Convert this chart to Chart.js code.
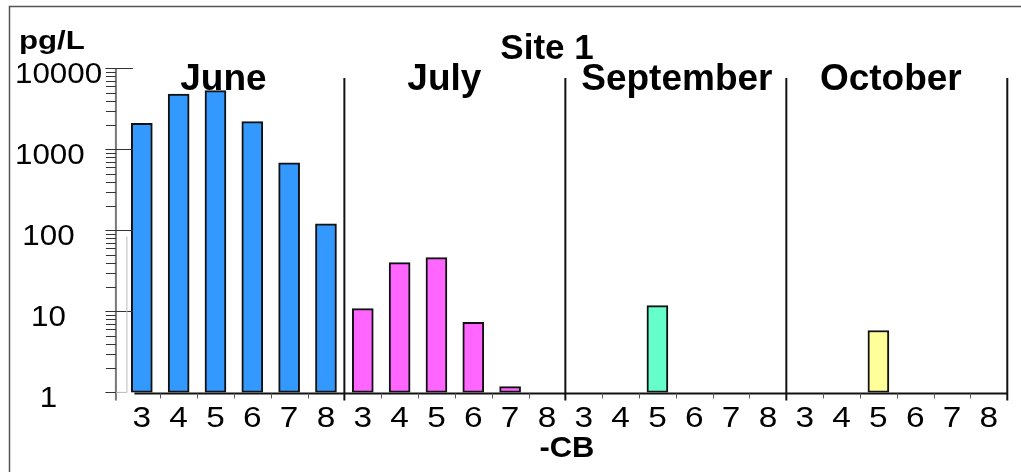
<!DOCTYPE html>
<html>
<head>
<meta charset="utf-8">
<script src="https://cdn.jsdelivr.net/npm/chart.js@4.4.1/dist/chart.umd.min.js"></script>
<style>
  html, body { margin: 0; padding: 0; background: #ffffff; overflow: hidden; }
  canvas { display: block; }
</style>
</head>
<body>
<canvas id="chart" width="1021" height="472" style="width:1021px;height:472px"></canvas>
<script>
// Sampling months and the congener groups measured in each
const months = ['June', 'July', 'September', 'October'];
const congeners = ['3', '4', '5', '6', '7', '8'];

// Concentrations (pg/L) per congener group, one list per month
const juneValues = [2100, 4800, 5300, 2200, 680, 120];
const julyValues = [10.8, 40, 46, 7.3, 1.18, null];
const septemberValues = [null, null, 11.8, null, null, null];
const octoberValues = [null, null, 5.8, null, null, null];

// Labelled decades on the log axis
const yTickValues = [1, 10, 100, 1000, 10000];
const yTickLabels = ['1', '10', '100', '1000', '10000'];

const monthColors = ['#3399ff', '#ff66ff', '#66ffcc', '#ffff99'];
const monthLabelShift = [-10.5, -10.5, 1, -6];

const monthSeries = [juneValues, julyValues, septemberValues, octoberValues];
const categoryLabels = months.flatMap(() => congeners);

const datasets = monthSeries.map((values, m) => ({
  label: months[m],
  data: categoryLabels.map((_, i) =>
    Math.floor(i / congeners.length) === m ? values[i % congeners.length] : null),
  backgroundColor: monthColors[m],
  borderColor: '#111111',
  borderWidth: 2,
  borderSkipped: false,
  barThickness: 21,
  grouped: false
}));

const SANS = '"Liberation Sans", Arial, Helvetica, sans-serif';

// text drawn with an optional horizontal stretch (the printed labels are wide)
function stretchedText(ctx, text, x, y, font, align, baseline, sx) {
  ctx.save();
  ctx.font = font;
  ctx.textAlign = align;
  ctx.textBaseline = baseline;
  ctx.translate(x, y);
  ctx.scale(sx, 1);
  ctx.fillText(text, 0, 0);
  ctx.restore();
}

const axesAndText = {
  id: 'axesAndText',
  afterDatasetsDraw(chart) {
    const { ctx, chartArea: a, scales: { x, y } } = chart;
    const n = chart.data.labels.length;
    const band = (a.right - a.left) / n;
    const groupSize = congeners.length;
    ctx.save();
    ctx.fillStyle = '#000000';

    // outer frame (top and left edges)
    ctx.strokeStyle = '#555555';
    ctx.lineWidth = 1.5;
    ctx.beginPath();
    ctx.moveTo(9.5, chart.height);
    ctx.lineTo(9.5, 6.5);
    ctx.lineTo(chart.width, 6.5);
    ctx.stroke();

    // y axis
    const axisX = a.left - 7.5;
    const yTop = y.getPixelForValue(yTickValues[yTickValues.length - 1]);
    const yBottom = y.getPixelForValue(yTickValues[0]);
    ctx.strokeStyle = '#777777';
    ctx.lineWidth = 2;
    ctx.beginPath();
    ctx.moveTo(axisX, yTop);
    ctx.lineTo(axisX, yBottom + 8);
    ctx.stroke();

    // minor ticks (2..9 within each decade)
    ctx.strokeStyle = '#333333';
    ctx.lineWidth = 1;
    for (let d = 0; d < yTickValues.length - 1; d++) {
      for (let m = 2; m <= 9; m++) {
        const py = Math.round(y.getPixelForValue(yTickValues[d] * m)) + 0.5;
        ctx.beginPath();
        ctx.moveTo(axisX - 10, py);
        ctx.lineTo(axisX, py);
        ctx.stroke();
      }
    }
    // major ticks and labels
    const yFont = '29px ' + SANS;
    const ySx = 1.08;
    yTickValues.forEach((v, i) => {
      const py = Math.round(y.getPixelForValue(v)) + 0.5;
      ctx.beginPath();
      ctx.moveTo(axisX - 10.5, py);
      ctx.lineTo(axisX + (i === 0 ? 3 : 17), py);
      ctx.stroke();
      ctx.font = yFont;
      const w = ctx.measureText(yTickLabels[i]).width * ySx;
      const left = Math.max(15, 48.5 - w / 2);
      stretchedText(ctx, yTickLabels[i], left, py + 6, yFont, 'left', 'middle', ySx);
    });

    // light bracket beside the lower decades
    ctx.strokeStyle = '#bbbbbb';
    ctx.beginPath();
    ctx.moveTo(axisX, yBottom);
    ctx.lineTo(a.left + 3.5, yBottom);
    ctx.lineTo(a.left + 3.5, y.getPixelForValue(84));
    ctx.stroke();

    // x axis line
    const baseY = a.bottom + 1;
    ctx.strokeStyle = '#111111';
    ctx.lineWidth = 2;
    ctx.beginPath();
    ctx.moveTo(a.left + 11, baseY);
    ctx.lineTo(a.right, baseY);
    ctx.stroke();

    // category ticks and month separators
    for (let k = 1; k <= n; k++) {
      const px = a.left + k * band;
      if (k % groupSize === 0) {
        ctx.lineWidth = 2;
        ctx.strokeStyle = '#111111';
        ctx.beginPath();
        ctx.moveTo(px, 78);
        ctx.lineTo(px, baseY + 7);
        ctx.stroke();
      } else {
        ctx.lineWidth = 1;
        ctx.strokeStyle = '#555555';
        const sx = Math.round(px) + 0.5;
        ctx.beginPath();
        ctx.moveTo(sx, baseY);
        ctx.lineTo(sx, baseY + 5);
        ctx.stroke();
      }
    }

    // category labels
    const xFont = '29px ' + SANS;
    chart.data.labels.forEach((lab, i) => {
      stretchedText(ctx, lab, x.getPixelForValue(i), 419, xFont, 'center', 'middle', 1.15);
    });

    // month headings
    months.forEach((mName, m) => {
      const cx = a.left + (m + 0.5) * groupSize * band + monthLabelShift[m];
      stretchedText(ctx, mName, cx, 90, 'bold 37px ' + SANS, 'center', 'alphabetic', 1);
    });

    // chart title
    stretchedText(ctx, 'Site 1', 547, 59, 'bold 35px ' + SANS, 'center', 'alphabetic', 1);

    // axis titles
    stretchedText(ctx, '-CB', (a.left + a.right) / 2 + 1.5, 449, 'bold 30px ' + SANS, 'center', 'middle', 1.03);
    stretchedText(ctx, 'pg/L', 19, 49, 'bold 26px ' + SANS, 'left', 'alphabetic', 1.2);

    ctx.restore();
  }
};

new Chart(document.getElementById('chart'), {
  type: 'bar',
  data: { labels: categoryLabels, datasets },
  options: {
    responsive: false,
    animation: false,
    devicePixelRatio: 1,
    layout: { padding: { left: 123.4, right: 13.7, top: 68.3, bottom: 79.6 } },
    plugins: { legend: { display: false }, tooltip: { enabled: false }, title: { display: false } },
    scales: {
      x: { type: 'category', display: false, offset: true },
      y: { type: 'logarithmic', display: false, min: 1, max: 10000 }
    }
  },
  plugins: [axesAndText]
});
</script>
</body>
</html>
